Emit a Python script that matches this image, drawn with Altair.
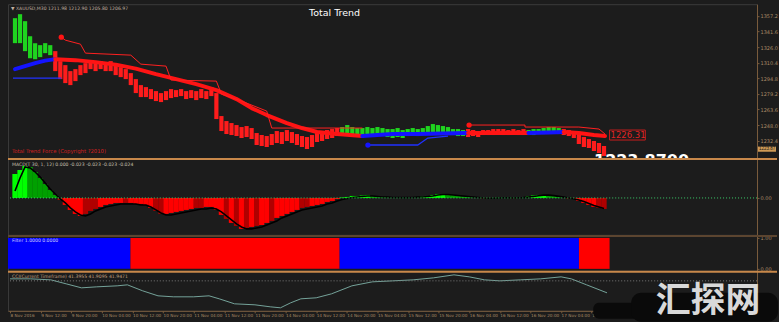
import json
import altair as alt
import pandas as pd

# ---------------- values ----------------
# XAUUSD price bars (high / low), one per bar index
bar_high = [
    1355, 1359, 1352, 1337, 1330, 1328, 1330, 1328, 1322, 1312,
    1308, 1302, 1304, 1308, 1310, 1312, 1310, 1312, 1310, 1312,
    1308, 1306, 1304, 1300, 1294, 1288, 1286, 1284, 1282, 1280,
    1282, 1284, 1283, 1284, 1282, 1283, 1282, 1284, 1282, 1286,
    1280, 1257, 1252, 1250, 1248, 1246, 1247, 1245, 1240, 1238,
    1237, 1239, 1242, 1241, 1243, 1241, 1239, 1237, 1236, 1238,
    1242, 1241, 1243, 1244, 1245, 1246, 1248, 1246, 1245, 1245,
    1246, 1245, 1246, 1245, 1244, 1244, 1245, 1243, 1244, 1245,
    1244, 1245, 1247, 1249, 1248, 1247, 1246, 1244, 1244, 1243,
    1244, 1243, 1242, 1243, 1243, 1244, 1244, 1244, 1243, 1244,
    1243, 1244, 1243, 1244, 1244, 1245, 1246, 1246, 1245, 1244,
    1243, 1242, 1240, 1236, 1234, 1232, 1230, 1227,
]
bar_low = [
    1330, 1330, 1322, 1315, 1314, 1316, 1320, 1318, 1302, 1294,
    1290, 1288, 1292, 1298, 1300, 1304, 1302, 1304, 1302, 1302,
    1298, 1296, 1294, 1288, 1280, 1276, 1276, 1274, 1272, 1271,
    1273, 1275, 1276, 1277, 1274, 1275, 1273, 1275, 1274, 1277,
    1254, 1242, 1239, 1238, 1237, 1235, 1236, 1234, 1228, 1227,
    1226, 1228, 1230, 1229, 1232, 1230, 1228, 1226, 1224, 1226,
    1231, 1232, 1234, 1235, 1237, 1239, 1240, 1239, 1238, 1238,
    1237, 1238, 1239, 1237, 1236, 1235, 1236, 1235, 1237, 1238,
    1237, 1238, 1239, 1240, 1240, 1239, 1239, 1238, 1237, 1237,
    1236, 1237, 1236, 1238, 1238, 1238, 1239, 1238, 1238, 1239,
    1238, 1238, 1238, 1238, 1239, 1239, 1240, 1240, 1239, 1238,
    1237, 1235, 1229, 1226, 1225, 1222, 1220, 1217,
]
bar_runs = [("up", 8), ("down", 57), ("up", 25), ("down", 12), ("up", 7), ("down", 9)]

# Total Trend thick line, in segments coloured by trend
ma_seg_i = [
    [0, 2, 4, 6, 8],
    [8, 12, 16, 20, 24, 28, 32, 36, 40, 44, 47, 50, 54, 57, 60, 64, 69],
    [69, 75, 80, 85, 90],
    [90, 95, 102],
    [102, 106, 109],
    [109, 112, 115, 117.2],
]
ma_seg_p = [
    [1304, 1307, 1310, 1312.5, 1314],
    [1314, 1313, 1311, 1308.5, 1304.5, 1299, 1294, 1289, 1283, 1274, 1265, 1258, 1250, 1245, 1241, 1239, 1237],
    [1237, 1239, 1239, 1239.5, 1240],
    [1240, 1240, 1240],
    [1240, 1240.5, 1241],
    [1241, 1240, 1238, 1237],
]
ma_seg_trend = ["up", "down", "up", "down", "up", "down"]

# upper (red) and lower (blue) trailing stop lines
upper_seg_i = [
    [9.2, 10, 13, 14, 23, 25, 30, 31, 40, 41, 45, 50, 51, 69],
    [90.2, 101.3, 101.3, 112, 116, 117.2],
]
upper_seg_p = [
    [1336, 1333, 1329, 1320, 1318, 1309, 1307, 1293, 1292, 1279, 1272, 1262, 1245, 1245],
    [1248, 1248, 1246, 1246, 1244, 1239],
]
lower_seg_i = [[-0.4, 9.2], [70.1, 80, 82, 86]]
lower_seg_p = [[1295, 1295], [1228, 1228, 1235, 1237]]

dot_i = [9.2, 90.2, 70.1]
dot_p = [1336, 1248, 1228]
dot_trend = ["down", "down", "up"]

main_ticks = [1357.2, 1341.6, 1326.0, 1310.4, 1294.8, 1279.2, 1263.6, 1248.0, 1232.4]
stop_label_i = 117.2
stop_label_p = 1238
stop_label_text = "1226.31"
bid_price = 1223.87
bid_big_text = "1223.8700"
bid_tag_text = "1223.87"
chart_title = "Total Trend"
header_text = "\u25bc XAUUSD,M30  1211.98 1212.90 1205.80 1206.97"
force_text = "Total Trend Force (Copyright ?2010)"

# MACD histogram and signal
macd_hist = [
    24, 28, 32, 31, 26, 20, 14, 8, 3, -2,
    -7, -12, -16, -18, -16, -13, -11, -9, -7, -6,
    -5, -5, -5, -5, -6, -6, -7, -10, -13, -16,
    -16, -15, -14, -13, -12, -11, -10, -10, -9, -9,
    -12, -17, -21, -25, -28, -31, -30, -29, -28, -27,
    -25, -23, -20, -18, -16, -14, -12, -10, -9, -8,
    -7, -6, -4, -3, -1, 0.5, 1, 2, 2, 2.5,
    3, 2, 1.5, 1, 0.5, 0.5, 0.3, 0.3, 0.5, 0.5,
    1, 1.5, 2, 3, 4, 4, 3.5, 3, 2, 1.5,
    1, 0.5, 0.3, -0.3, -0.5, -0.3, 0.2, 0.3, 0.2, -0.2,
    0.3, 0.5, 1.5, 2.5, 3, 3, 2.5, 2, 1, 0.2,
    -0.5, -1, -3, -5, -7, -9, -10, -11,
]
macd_sig = [
    7, 20, 31, 30, 26, 21, 15, 9, 4, -1,
    -5, -10, -14, -17, -18, -16, -13, -11, -9, -8,
    -7, -6, -6, -6, -6, -7, -7, -9, -12, -15,
    -17, -17, -16, -15, -14, -13, -12, -11, -11, -10,
    -11, -14, -18, -22, -26, -29, -31, -31, -30, -29,
    -27, -25, -23, -20, -18, -16, -14, -12, -11, -10,
    -9, -8, -6, -5, -3, -1.5, -0.5, 0.5, 1, 1.5,
    2, 2, 1.5, 1, 1, 0.5, 0.5, 0.3, 0.3, 0.5,
    0.8, 1, 1.5, 2, 3, 3.5, 3.5, 3, 2.5, 2,
    1.5, 1, 0.5, 0, -0.3, -0.3, 0, 0.2, 0.2, 0,
    0.2, 0.3, 0.8, 1.5, 2.2, 2.8, 2.8, 2.3, 1.6, 0.8,
    0, -0.8, -2, -3.5, -5.5, -7.5, -9, -10.5,
]
macd_state = ("AAABBBBBBD" "CCCCDDDCCC" "CCDCCCCCDD" "CCCCCCDDCC" "CCDCDCDCDC" "CDCCCCCDDC"
              "CCCCCAAAAA" "ABBBBBBAAA" "AAAAAABBBB" "BBBCCCAABC" "AAAAAABBBB" "CCCCCCDD")
macd_text = "MACD(T 30, 1, 12) 0.000 -0.023 -0.023 -0.023 -0.024"

# Filter blocks
filt_start = [-0.4, 23.6, 64.6, 111.5]
filt_end = [23.6, 64.6, 111.5, 117.5]
filt_state = ["up", "down", "up", "down"]
filt_text = "Filter 1.0000 0.0000"

# CCI line
cci_i = [0, 4, 8, 11, 14, 17, 21, 23, 26, 29, 32, 36, 39, 41, 44, 48, 51, 53, 55, 57,
         60, 63, 67, 71, 75, 79, 83, 87, 90, 93, 96, 100, 104, 108, 110, 113, 117]
cci_v = [32, 32, 31, 27, 23, 24, 25, 26, 20, 15, 14, 14, 15, 12, 7, 6, 4, 3, 8, 12,
         13, 17, 25, 29, 30, 31, 33, 36, 34, 31, 30, 31, 32, 34, 32, 26, 18]
cci_level = 30
cci_text = "CCI(Current Timeframe) 41.3955 41.9095 41.9471"

time_labels = ["8 Nov 2016", "9 Nov 12:00", "9 Nov 20:00", "10 Nov 04:00", "10 Nov 12:00",
               "10 Nov 20:00", "11 Nov 04:00", "11 Nov 12:00", "11 Nov 20:00", "14 Nov 04:00",
               "14 Nov 12:00", "14 Nov 20:00", "15 Nov 04:00", "15 Nov 12:00", "15 Nov 20:00",
               "16 Nov 04:00", "16 Nov 12:00", "16 Nov 20:00", "17 Nov 04:00", "17 Nov 12:00"]
bars_per_label = 6
watermark = "汇探网"

# ---------------- styling ----------------
W = 750
H_MAIN, H_MACD, H_FILT, H_CCI = 154, 77, 36, 40
BG = "#1c1c1c"
AXC = "#a88a66"
DOM = "#7a5c3c"
SEP = "#c8884a"
BAR_COL = {"up": "#1fd41f", "down": "#ff1c1c"}
MA_COL = {"up": "#1414ff", "down": "#ff1414"}
MACD_COL = {"A": "#00ff00", "B": "#00a000", "C": "#ff0000", "D": "#b00000"}
FILT_COL = {"up": "#0000ff", "down": "#ff0000"}

XS = alt.Scale(domain=[-0.4, 146.4], nice=False, zero=False)


def X(f):
    return alt.X(f, type="quantitative", scale=XS, axis=None)


def seg_frame(seg_i, seg_p, cols):
    rows = []
    for s, (xs, ps) in enumerate(zip(seg_i, seg_p)):
        for k, (x, p) in enumerate(zip(xs, ps)):
            rows.append({"i": x, "p": p, "seg": s, "k": k, "col": cols[s]})
    return pd.DataFrame(rows)


one = pd.DataFrame({"t": [""]})


def label(text, x, y, color, size=5, **kw):
    return alt.Chart(pd.DataFrame({"t": [text]})).mark_text(
        align="left", baseline="middle", fontSize=size, color=color, font="DejaVu Sans", **kw
    ).encode(x=alt.value(x), y=alt.value(y), text="t:N")


def separator(color):
    return alt.Chart(one).mark_rule(color=color, strokeWidth=2).encode(
        x=alt.value(0), x2=alt.value(W + 20), y=alt.value(1))


# ---------------- main panel ----------------
Y_MAIN = alt.Scale(domain=[1215, 1369], nice=False, zero=False)
AX_MAIN = alt.Axis(orient="right", values=main_ticks, format=".1f", title=None, grid=False)


def YM(f):
    return alt.Y(f, type="quantitative", scale=Y_MAIN, axis=AX_MAIN)


bar_dir = [d for d, n in bar_runs for _ in range(n)]
bars = pd.DataFrame({"i": list(range(len(bar_high))), "hi": bar_high, "lo": bar_low,
                     "col": [BAR_COL[d] for d in bar_dir]})
ma = seg_frame(ma_seg_i, ma_seg_p, [MA_COL[t] for t in ma_seg_trend])
upper = seg_frame(upper_seg_i, upper_seg_p, ["#ff2020"] * len(upper_seg_i))
lower = seg_frame(lower_seg_i, lower_seg_p, ["#2030ff"] * len(lower_seg_i))
dots = pd.DataFrame({"i": dot_i, "p": dot_p, "col": [MA_COL[t] for t in dot_trend]})
stop_lab = pd.DataFrame({"i": [stop_label_i], "p": [stop_label_p], "t": [stop_label_text],
                         "x1": [stop_label_i + 0.9], "x2": [stop_label_i + 8.0],
                         "y1": [stop_label_p + 5], "y2": [stop_label_p - 5]})
bid = pd.DataFrame({"i": [len(bar_high) - 1], "p": [bid_price], "big": [bid_big_text],
                    "tag": [bid_tag_text], "p1": [bid_price + 2.6], "p2": [bid_price - 2.6]})

main = alt.layer(
    alt.Chart(bars).mark_bar(size=4.2, orient="vertical").encode(
        x=X("i"), y=YM("hi"), y2=alt.Y2("lo"), color=alt.Color("col:N", scale=None)),
    alt.Chart(lower).mark_line(strokeWidth=1.3).encode(
        x=X("i"), y=YM("p"), detail="seg:N", order="k:Q", color=alt.Color("col:N", scale=None)),
    alt.Chart(ma).mark_line(strokeWidth=4, strokeCap="round", strokeJoin="round").encode(
        x=X("i"), y=YM("p"), detail="seg:N", order="k:Q", color=alt.Color("col:N", scale=None)),
    alt.Chart(upper).mark_line(strokeWidth=1).encode(
        x=X("i"), y=YM("p"), detail="seg:N", order="k:Q", color=alt.Color("col:N", scale=None)),
    alt.Chart(dots).mark_circle(size=28, opacity=1).encode(
        x=X("i"), y=YM("p"), color=alt.Color("col:N", scale=None)),
    alt.Chart(stop_lab).mark_rect(fill=BG, stroke="#c81e1e", strokeWidth=1).encode(
        x=X("x1"), x2=alt.X2("x2"), y=YM("y1"), y2=alt.Y2("y2")),
    alt.Chart(stop_lab).mark_text(align="left", baseline="middle", fontSize=8.5, dx=1,
                                  color="#e02424", font="DejaVu Sans").encode(
        x=X("x1"), y=YM("p"), text="t:N"),
    alt.Chart(bid).mark_text(align="left", baseline="alphabetic", fontSize=16, fontWeight="bold",
                             color="white", clip=True, dx=-10, font="DejaVu Sans").encode(
        x=X("i"), y=alt.value(162), text="big:N"),
    alt.Chart(bid).mark_rect(color="#cf9a55").encode(
        x=alt.value(W + 1), x2=alt.value(W + 19), y=YM("p1"), y2=alt.Y2("p2")),
    alt.Chart(bid).mark_text(align="left", baseline="middle", fontSize=4.5, color="#1a1a1a").encode(
        x=alt.value(W + 2), y=YM("p"), text="tag:N"),
    alt.Chart(pd.DataFrame({"t": [chart_title]})).mark_text(
        fontSize=9.5, color="white", font="DejaVu Sans").encode(
        x=alt.value(327), y=alt.value(9), text="t:N"),
    label(header_text, 3, 4.5, "#c0b0a0", 4.6),
    label(force_text, 4, 147, "#d22020", 5.3),
).properties(width=W, height=H_MAIN)

# ---------------- MACD panel ----------------
Y_MACD = alt.Scale(domain=[-37, 40], nice=False, zero=False)
AX_MACD = alt.Axis(orient="right", values=[0], format=".2f", title=None, grid=False)


def YMA(f):
    return alt.Y(f, type="quantitative", scale=Y_MACD, axis=AX_MACD)


macd = pd.DataFrame({"i": list(range(len(macd_hist))), "h": macd_hist, "s": macd_sig,
                     "col": [MACD_COL[c] for c in macd_state]})
macd_panel = alt.layer(
    alt.Chart(macd).mark_bar(size=5.3, orient="vertical").encode(
        x=X("i"), y=YMA("h"), y2=alt.Y2Datum(0), color=alt.Color("col:N", scale=None)),
    alt.Chart(macd).mark_line(color="#000000", strokeWidth=1.6).encode(x=X("i"), y=YMA("s")),
    alt.Chart(pd.DataFrame({"z": [0]})).mark_rule(color="#3ccf6a", strokeDash=[1, 2]).encode(y=YMA("z")),
    separator(SEP),
    label(macd_text, 4, 7, "#c8c0b0", 4.6),
).properties(width=W, height=H_MACD)

# ---------------- Filter panel ----------------
Y_F = alt.Scale(domain=[-0.0645, 1.097], nice=False, zero=False)
AX_F = alt.Axis(orient="right", values=[0, 1], format=".2f", title=None, grid=False)
filt = pd.DataFrame({"s": filt_start, "e": filt_end, "top": [1] * len(filt_start),
                     "bot": [0] * len(filt_start), "col": [FILT_COL[s] for s in filt_state]})
filt_panel = alt.layer(
    alt.Chart(filt).mark_rect().encode(
        x=X("s"), x2=alt.X2("e"),
        y=alt.Y("top", type="quantitative", scale=Y_F, axis=AX_F), y2=alt.Y2("bot"),
        color=alt.Color("col:N", scale=None)),
    separator("#5c4530"),
    label(filt_text, 4, 6.5, "#d0d0ff", 4.6),
).properties(width=W, height=H_FILT)

# ---------------- CCI panel ----------------
Y_C = alt.Scale(domain=[0, 40], nice=False, zero=False)
AX_C = alt.Axis(orient="right", labels=False, ticks=False, title=None, grid=False)
label_expr = json.dumps(time_labels) + "[round(datum.value / %d)]" % bars_per_label
AX_T = alt.Axis(values=[k * bars_per_label for k in range(len(time_labels))], labelExpr=label_expr,
                labelAlign="left", labelFontSize=4.2, labelColor=AXC, tickSize=2, labelPadding=1,
                tickColor=DOM, domainColor=DOM, grid=False, title=None, labelOverlap=False,
                labelFlush=False, zindex=0)
XT = alt.X("i", type="quantitative", scale=XS, axis=AX_T)
cci = pd.DataFrame({"i": cci_i, "v": cci_v})
cci_panel = alt.layer(
    alt.Chart(cci).mark_line(color="#74a39a", strokeWidth=1).encode(
        x=XT, y=alt.Y("v", type="quantitative", scale=Y_C, axis=AX_C)),
    alt.Chart(pd.DataFrame({"v": [cci_level]})).mark_rule(color="#7a7a7a", strokeDash=[1, 2]).encode(
        y=alt.Y("v", type="quantitative", scale=Y_C, axis=AX_C)),
    separator(SEP),
    label(cci_text, 4, 6, "#c0a080", 4.6),
    alt.Chart(one).mark_rect(color="#0a0a0a", cornerRadius=6).encode(
        x=alt.value(586), x2=alt.value(640), y=alt.value(32), y2=alt.value(48)),
    alt.Chart(one).mark_rect(color="#0a0a0a", cornerRadius=10).encode(
        x=alt.value(624), x2=alt.value(771), y=alt.value(22), y2=alt.value(51)),
    alt.Chart(pd.DataFrame({"t": [watermark]})).mark_text(
        fontSize=35, fontWeight="bold", color="#d9d9d9", font="Noto Sans CJK SC", baseline="middle").encode(
        x=alt.value(701), y=alt.value(30), text="t:N"),
).properties(width=W, height=H_CCI)

chart = alt.vconcat(main, macd_panel, filt_panel, cci_panel, spacing=0, bounds="flush").properties(
    padding={"left": 6, "top": 3, "right": 0, "bottom": 0}, background=BG
).configure_view(stroke="#3a3a3a", strokeWidth=1).configure_axis(
    labelFont="DejaVu Sans", labelColor=AXC, labelFontSize=5, domainColor=DOM, tickColor=DOM,
    tickSize=2, labelPadding=1
)

chart.save("out.html", embed_options={"renderer": "svg", "actions": False})
